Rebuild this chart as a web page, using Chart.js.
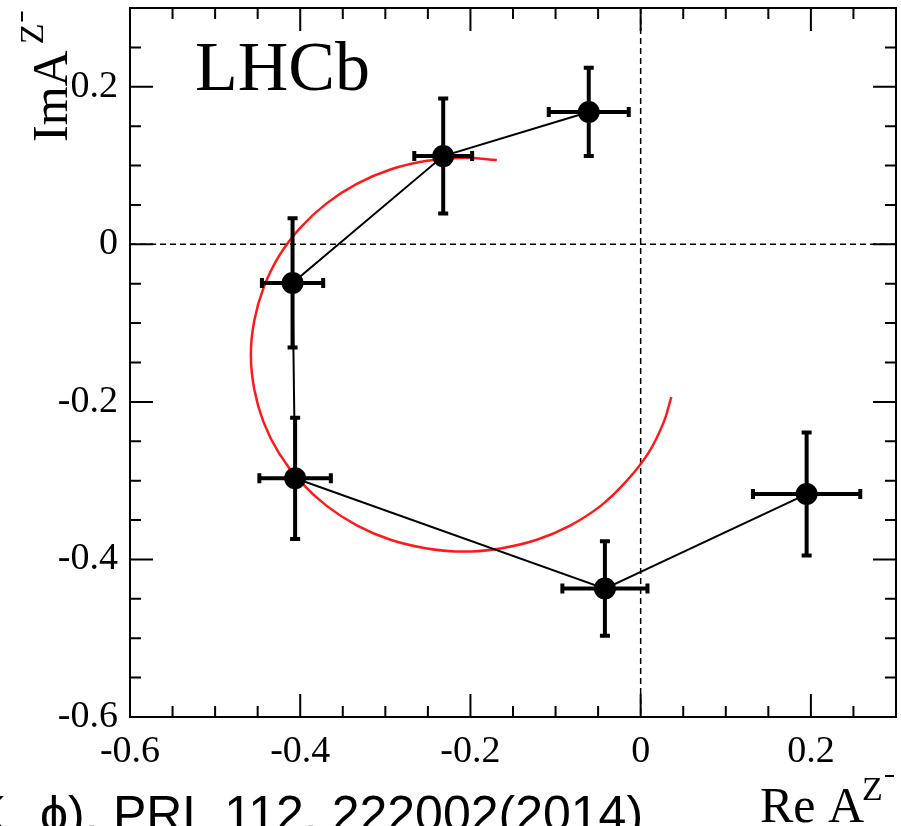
<!DOCTYPE html>
<html><head><meta charset="utf-8">
<script src="https://cdn.jsdelivr.net/npm/chart.js@4.4.0/dist/chart.umd.min.js"></script>
<style>html,body{margin:0;padding:0;background:#fff;overflow:hidden;} #wrap{width:901px;height:826px;}</style>
</head><body><div id="wrap"><canvas id="c" width="901" height="826"></canvas></div>
<script>
// measured points (Re A^Z, Im A^Z) with errors
const reA   = [-0.061, -0.232, -0.409, -0.406, -0.042, 0.195];
const imA   = [ 0.168,  0.112, -0.049, -0.297, -0.437, -0.317];
const reErr = [ 0.047,  0.034,  0.036,  0.042,  0.050, 0.063];
const imErr = [ 0.056,  0.073,  0.082,  0.077,  0.060, 0.078];
// red fitted curve, read along the drawn arc
const fitRe = [-0.169,-0.208,-0.251,-0.294,-0.333,-0.369,-0.400,-0.425,-0.443,-0.454,-0.458,-0.454,-0.443,-0.425,-0.400,-0.369,-0.333,-0.294,-0.251,-0.208,-0.165,-0.122,-0.083,-0.047,-0.017,0.009,0.027,0.036];
const fitIm = [ 0.107, 0.110, 0.106, 0.095, 0.077, 0.052, 0.021,-0.015,-0.055,-0.097,-0.140,-0.184,-0.226,-0.265,-0.301,-0.332,-0.357,-0.375,-0.386,-0.390,-0.386,-0.375,-0.357,-0.332,-0.301,-0.265,-0.226,-0.194];
const xTicks = [-0.6, -0.4, -0.2, 0, 0.2];
const yTicks = [-0.6, -0.4, -0.2, 0, 0.2];

const SERIF = '"Liberation Serif", "Times New Roman", serif';
const SANS = '"Liberation Sans", Arial, sans-serif';
const fmt = v => (Math.abs(v) < 1e-9 ? '0' : v.toFixed(1));

const deco = {
  id: 'deco',
  beforeDatasetsDraw(chart) {
    const {ctx, chartArea: a, scales: {x, y}} = chart;
    ctx.save();
    ctx.strokeStyle = '#000';
    ctx.lineWidth = 1.5;
    ctx.setLineDash([6, 4]);
    const x0 = x.getPixelForValue(0), y0 = y.getPixelForValue(0);
    ctx.beginPath(); ctx.moveTo(x0, a.top); ctx.lineTo(x0, a.bottom); ctx.stroke();
    ctx.beginPath(); ctx.moveTo(a.left, y0); ctx.lineTo(a.right, y0); ctx.stroke();
    ctx.restore();
  },
  afterDatasetsDraw(chart) {
    const {ctx, scales: {x, y}} = chart;
    ctx.save();
    ctx.strokeStyle = '#000';
    ctx.lineWidth = 4;
    ctx.setLineDash([]);
    const cap = 5;
    for (let i = 0; i < reA.length; i++) {
      const px = x.getPixelForValue(reA[i]), py = y.getPixelForValue(imA[i]);
      const xl = x.getPixelForValue(reA[i] - reErr[i]), xr = x.getPixelForValue(reA[i] + reErr[i]);
      const yt = y.getPixelForValue(imA[i] + imErr[i]), yb = y.getPixelForValue(imA[i] - imErr[i]);
      ctx.beginPath();
      ctx.moveTo(xl, py); ctx.lineTo(xr, py);
      ctx.moveTo(px, yt); ctx.lineTo(px, yb);
      ctx.moveTo(xl, py - cap); ctx.lineTo(xl, py + cap);
      ctx.moveTo(xr, py - cap); ctx.lineTo(xr, py + cap);
      ctx.moveTo(px - cap, yt); ctx.lineTo(px + cap, yt);
      ctx.moveTo(px - cap, yb); ctx.lineTo(px + cap, yb);
      ctx.stroke();
    }
    ctx.restore();
  },
  afterDraw(chart) {
    const {ctx, chartArea: a, scales: {x, y}} = chart;
    ctx.save();
    ctx.strokeStyle = '#000';
    ctx.fillStyle = '#000';
    ctx.lineWidth = 2;
    ctx.setLineDash([]);
    ctx.strokeRect(a.left, a.top, a.right - a.left, a.bottom - a.top);
    // inward ticks, minor every 0.05
    ctx.beginPath();
    for (let i = -12; i <= 6; i++) {
      const v = i * 0.05;
      const major = (i % 4 === 0);
      const L = major ? 23 : 11;
      const px = x.getPixelForValue(v);
      ctx.moveTo(px, a.bottom); ctx.lineTo(px, a.bottom - L);
      ctx.moveTo(px, a.top); ctx.lineTo(px, a.top + L);
      const py = y.getPixelForValue(v);
      ctx.moveTo(a.left, py); ctx.lineTo(a.left + L, py);
      ctx.moveTo(a.right, py); ctx.lineTo(a.right - L, py);
    }
    ctx.stroke();
    // LHCb label
    ctx.textAlign = 'left';
    ctx.textBaseline = 'alphabetic';
    ctx.font = '70px ' + SERIF;
    ctx.fillText('LHCb', 195, 90);
    // y title
    ctx.save();
    ctx.translate(67, 142);
    ctx.rotate(-Math.PI / 2);
    ctx.font = '50px ' + SERIF;
    ctx.fillText('ImA', 0, 0);
    let w = ctx.measureText('ImA').width;
    ctx.font = '34px ' + SERIF;
    ctx.fillText('Z', w + 6, -24);
    let wz = ctx.measureText('Z').width;
    ctx.beginPath(); ctx.moveTo(w + 6 + wz + 2, -45); ctx.lineTo(w + 6 + wz + 12, -45); ctx.stroke();
    ctx.restore();
    // x title
    ctx.font = '50px ' + SERIF;
    ctx.fillText('Re A', 760, 822);
    ctx.font = '34px ' + SERIF;
    ctx.fillText('Z', 862, 800);
    ctx.beginPath(); ctx.moveTo(885, 776); ctx.lineTo(894, 776); ctx.stroke();
    // clipped caption at bottom
    ctx.font = '50px ' + SANS;
    ctx.fillText('K', -27, 831);
    ctx.fillText('\u03D5),', 40, 831);
    ctx.fillText('PRL 112, 222002(2014)', 113, 831);
    ctx.restore();
  }
};

new Chart(document.getElementById('c'), {
  type: 'scatter',
  data: {
    datasets: [
      {
        data: reA.map((v, i) => ({x: v, y: imA[i]})),
        showLine: true,
        borderColor: '#000',
        borderWidth: 2,
        backgroundColor: '#000',
        pointBackgroundColor: '#000',
        pointBorderColor: '#000',
        pointRadius: 11,
        pointBorderWidth: 0,
        tension: 0
      },
      {
        data: fitRe.map((v, i) => ({x: v, y: fitIm[i]})),
        showLine: true,
        borderColor: '#ff1a1a',
        borderWidth: 2.5,
        pointRadius: 0,
        tension: 0.4,
        fill: false
      }
    ]
  },
  options: {
    responsive: false,
    devicePixelRatio: 1,
    animation: false,
    events: [],
    layout: {autoPadding: false, padding: {top: 8, right: 5, left: 0, bottom: 0}},
    plugins: {legend: {display: false}, tooltip: {enabled: false}},
    scales: {
      x: {
        type: 'linear', min: -0.6, max: 0.3,
        afterBuildTicks: s => { s.ticks = xTicks.map(v => ({value: v})); },
        afterFit: s => { s.height = 109; s.paddingLeft = 0; s.paddingRight = 0; s.paddingTop = 0; s.paddingBottom = 0; },
        grid: {display: false, drawTicks: false},
        border: {display: false},
        ticks: {font: {family: SERIF, size: 38}, color: '#000', padding: 12, maxRotation: 0, autoSkip: false, callback: v => fmt(v)}
      },
      y: {
        type: 'linear', min: -0.6, max: 0.3,
        afterBuildTicks: s => { s.ticks = yTicks.map(v => ({value: v})); },
        afterFit: s => { s.width = 130; s.paddingLeft = 0; s.paddingRight = 0; s.paddingTop = 0; s.paddingBottom = 0; },
        grid: {display: false, drawTicks: false},
        border: {display: false},
        ticks: {font: {family: SERIF, size: 38}, color: '#000', padding: 12, autoSkip: false, callback: v => fmt(v)}
      }
    }
  },
  plugins: [deco]
});
</script>
</body></html>
